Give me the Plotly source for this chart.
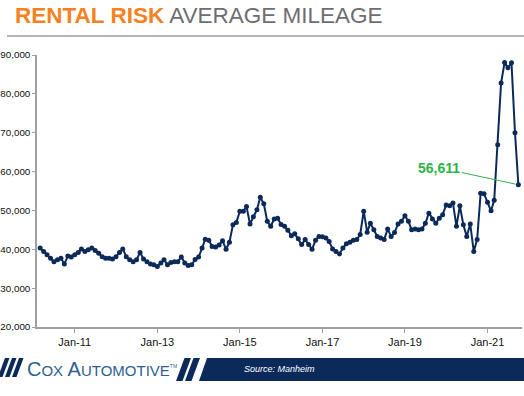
import plotly.graph_objects as go
import pandas as pd

# ---- data (monthly average mileage, Mar-2010 .. Oct-2021) ----
start_month = "2010-03-01"
m2010 = [40300, 39400, 38600, 37700, 36800, 37300, 37700, 36200, 38300, 38000]
m2011 = [38600, 39200, 40100, 39400, 39900, 40300, 39700, 39000, 38100, 37700, 37700, 37500]
m2012 = [38100, 39200, 40100, 38100, 37300, 36800, 37300, 39200, 37500, 36800, 36200, 36000]
m2013 = [35600, 36500, 37300, 36000, 36600, 36800, 36800, 38000, 36500, 35800, 36000, 37400]
m2014 = [38000, 40300, 42600, 42300, 40700, 40600, 41100, 42200, 40000, 41800, 46300, 46900]
m2015 = [49800, 49800, 51000, 46500, 48400, 50200, 53400, 51700, 47200, 45900, 47800, 48000]
m2016 = [46400, 45900, 44900, 43500, 44000, 42700, 41200, 42500, 41200, 40000, 42300, 43300]
m2017 = [43200, 42900, 42000, 40100, 39400, 38800, 40300, 41400, 41800, 42300, 42500, 43800]
m2018 = [49800, 44400, 46700, 45000, 43300, 42900, 42500, 45200, 43300, 44300, 46500, 47200]
m2019 = [48600, 47200, 45000, 45200, 45000, 45200, 46700, 49300, 47800, 46700, 48000, 48900]
m2020 = [51400, 51200, 51900, 45900, 51200, 46300, 43300, 46500, 39400, 42500, 54400, 54300]
m2021 = [52100, 49900, 52600, 66900, 82800, 88100, 86700, 88000, 70000, 56611]

mileage = m2010 + m2011 + m2012 + m2013 + m2014 + m2015 + m2016 + m2017 + m2018 + m2019 + m2020 + m2021
dates = pd.date_range(start_month, periods=len(mileage), freq="MS")

x_tick_vals = ["2011-01-01", "2013-01-01", "2015-01-01", "2017-01-01", "2019-01-01", "2021-01-01"]
x_tick_text = ["Jan-11", "Jan-13", "Jan-15", "Jan-17", "Jan-19", "Jan-21"]
y_tick_vals = [20000, 30000, 40000, 50000, 60000, 70000, 80000, 90000]

last_label = "56,611"

# ---- layout geometry (pixels) ----
W, H = 524, 396
ML, MR, MT, MB = 37, 2, 55, 69
PW, PH = W - ML - MR, H - MT - MB


def px(xp):
    return (xp - ML) / PW


def py(yp):
    return (H - MB - yp) / PH


NAVY = "#0B2A5A"
fig = go.Figure()
fig.add_trace(go.Scatter(
    x=dates, y=mileage, mode="lines+markers",
    line=dict(color=NAVY, width=2),
    marker=dict(color=NAVY, size=5),
    showlegend=False, cliponaxis=False,
))

shapes = []
# title underline
shapes.append(dict(type="line", xref="paper", yref="paper",
                   x0=px(7), x1=px(524), y0=py(36), y1=py(36),
                   line=dict(color="#9A9A9A", width=1.5)))


def poly(points, color):
    d = "M " + " L ".join(f"{px(a):.5f},{py(b):.5f}" for a, b in points) + " Z"
    return dict(type="path", xref="paper", yref="paper", path=d,
                fillcolor=color, line=dict(width=0), layer="above")


# footer band
shapes.append(poly([(207, 358), (524, 358), (524, 381), (199, 381)], NAVY))
# two slanted stripes before band
shapes.append(poly([(184.5, 358), (191, 358), (182.5, 381), (176, 381)], NAVY))
shapes.append(poly([(193.5, 358), (200, 358), (191.5, 381), (185, 381)], NAVY))
# left logo stripes
for x0 in (-2, 5, 12):
    shapes.append(poly([(x0 + 7, 358), (x0 + 11.5, 358), (x0 + 4.5, 377), (x0, 377)], NAVY))

annotations = [
    dict(x=dates[-1], y=mileage[-1], xref="x", yref="y",
         text=f"<b>{last_label}</b>", showarrow=True, arrowhead=0,
         arrowcolor="#2DB34A", arrowwidth=1, ax=-79, ay=-17, standoff=3,
         font=dict(family="Liberation Sans, Arial", size=14, color="#2DB34A")),
    dict(xref="paper", yref="paper", x=px(25), y=py(369), xanchor="left", yanchor="middle",
         showarrow=False,
         text="C<span style='font-size:15px'>OX</span> A<span style='font-size:15px'>UTOMOTIVE</span><sup><span style='font-size:5px'>TM</span></sup>",
         font=dict(family="Liberation Sans, Arial", size=20, color="#2F5F8F")),
    dict(xref="paper", yref="paper", x=px(242), y=py(369), xanchor="left", yanchor="middle",
         showarrow=False, text="<i>Source: Manheim</i>",
         font=dict(family="Liberation Sans, Arial", size=9, color="white")),
]

fig.update_layout(
    width=W, height=H,
    margin=dict(l=ML, r=MR, t=MT, b=MB, pad=0),
    paper_bgcolor="white", plot_bgcolor="white",
    title=dict(
        text="<b><span style='color:#F58220'>RENTAL RISK</span></b> <span style='color:#6D6E71'>AVERAGE MILEAGE</span>",
        x=15 / W, xanchor="left", xref="container",
        y=1 - 15 / H, yanchor="middle", yref="container",
        font=dict(family="Liberation Sans, Arial", size=22.5),
    ),
    xaxis=dict(
        type="date", range=["2010-02-01", "2021-11-02"], automargin=False,
        tickvals=x_tick_vals, ticktext=x_tick_text,
        showgrid=False, zeroline=False,
        showline=True, linecolor="#A0A0A0", linewidth=1.5,
        ticks="outside", ticklen=4, tickcolor="#A0A0A0", tickwidth=1,
        tickfont=dict(family="Liberation Sans, Arial", size=11, color="#111"),
    ),
    yaxis=dict(
        range=[20000, 90000], tickvals=y_tick_vals, tickformat=",", automargin=False,
        showgrid=False, zeroline=False,
        showline=True, linecolor="#A0A0A0", linewidth=1.5,
        ticks="outside", ticklen=3, tickcolor="#A0A0A0", tickwidth=1,
        tickfont=dict(family="Liberation Sans, Arial", size=9.8, color="#111"),
    ),
    shapes=shapes,
    annotations=annotations,
)

fig.write_html("out.html", config={"displayModeBar": False},
               post_script="document.body.style.margin='0';document.body.style.overflow='hidden';")
